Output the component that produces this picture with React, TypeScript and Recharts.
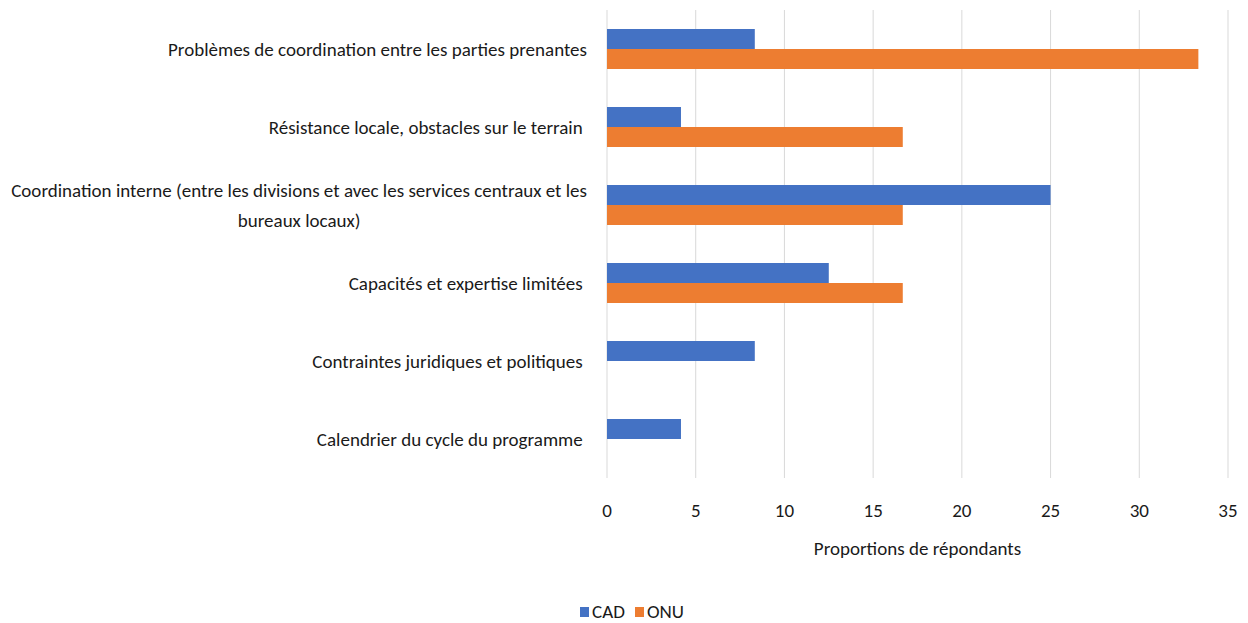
import { BarChart, Bar, XAxis, YAxis, CartesianGrid, Legend, Label } from "recharts";

const categories = [
  ["Problèmes de coordination entre les parties prenantes"],
  ["Résistance locale, obstacles sur le terrain\u00a0"],
  ["Coordination interne (entre les divisions et avec les services centraux et les", "bureaux locaux)"],
  ["Capacités et expertise limitées\u00a0"],
  ["Contraintes juridiques et politiques\u00a0"],
  ["Calendrier du cycle du programme\u00a0"],
];
const cad = [8.33, 4.17, 25, 12.5, 8.33, 4.17];
const onu = [33.33, 16.67, 16.67, 16.67, 0, 0];
const xTicks = [0, 5, 10, 15, 20, 25, 30, 35];

const FONT = "Carlito, Calibri, Lato, sans-serif";
const FONT_SIZE = 19;
const TEXT = "#1a1a1a";

const data = categories.map((lines, i) => ({
  name: lines.join(" "),
  lines,
  CAD: cad[i],
  ONU: onu[i],
}));

let ctx: CanvasRenderingContext2D | null = null;
function measure(s: string) {
  if (!ctx) ctx = document.createElement("canvas").getContext("2d");
  if (!ctx) return s.length * 8;
  ctx.font = `${FONT_SIZE}px ${FONT}`;
  return ctx.measureText(s).width;
}

function CategoryTick({ x, y, index }: { x?: number; y?: number; index?: number }) {
  const lines = categories[index ?? 0];
  const right = (x ?? 0) - 12;
  const lh = 30;
  const y0 = (y ?? 0) - ((lines.length - 1) * lh) / 2;
  const w = measure(lines[0]);
  const center = right - w / 2;
  return (
    <g>
      {lines.map((l, i) => (
        <text
          key={i}
          x={i === 0 ? right : center}
          y={y0 + i * lh}
          dy="0.35em"
          textAnchor={i === 0 ? "end" : "middle"}
          fontFamily={FONT}
          fontSize={FONT_SIZE}
          fill={TEXT}
        >
          {l}
        </text>
      ))}
    </g>
  );
}

function LegendContent() {
  const items = [
    { label: "CAD", color: "#4472C4" },
    { label: "ONU", color: "#ED7D31" },
  ];
  return (
    <div
      style={{
        display: "flex",
        justifyContent: "center",
        gap: 10,
        paddingLeft: 36,
        fontFamily: FONT,
        fontSize: FONT_SIZE,
        color: TEXT,
        lineHeight: "22px",
      }}
    >
      {items.map((it) => (
        <span key={it.label} style={{ display: "flex", alignItems: "center" }}>
          <span style={{ width: 9, height: 10, background: it.color, marginRight: 3, display: "inline-block" }} />
          {it.label}
        </span>
      ))}
    </div>
  );
}

export default function App() {
  return (
    <div style={{ position: "absolute", left: 0, top: 0, background: "#fff" }}>
      <BarChart
        width={1248}
        height={623}
        data={data}
        layout="vertical"
        margin={{ top: 10, right: 20, left: 0, bottom: 0 }}
        barGap={0}
        barSize={20}
      >
        <CartesianGrid stroke="#d9d9d9" horizontal={false} />
        <XAxis
          type="number"
          domain={[0, 35]}
          ticks={xTicks}
          tickLine={false}
          axisLine={false}
          tick={{ fontFamily: FONT, fontSize: FONT_SIZE, fill: TEXT }}
          tickMargin={20}
          height={123}
        >
          <Label
            value="Proportions de répondants"
            position="insideTop"
            offset={64}
            style={{ fontFamily: FONT, fontSize: FONT_SIZE, fill: TEXT }}
          />
        </XAxis>
        <YAxis
          type="category"
          dataKey="name"
          width={607}
          tickLine={false}
          axisLine={false}
          tick={<CategoryTick />}
          interval={0}
        />
        <Legend verticalAlign="bottom" height={22} content={<LegendContent />} />
        <Bar dataKey="CAD" fill="#4472C4" isAnimationActive={false} />
        <Bar dataKey="ONU" fill="#ED7D31" isAnimationActive={false} />
      </BarChart>
    </div>
  );
}
